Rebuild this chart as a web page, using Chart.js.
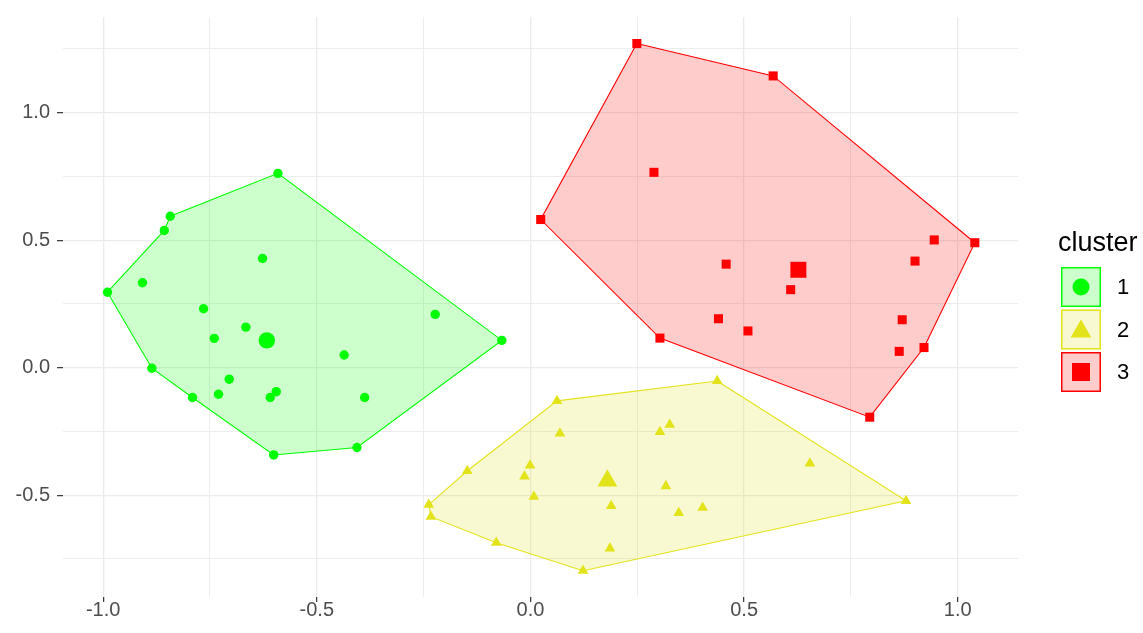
<!DOCTYPE html>
<html>
<head>
<meta charset="utf-8">
<script src="https://cdn.jsdelivr.net/npm/chart.js@4.4.0/dist/chart.umd.min.js"></script>
<style>
  html, body { margin: 0; padding: 0; background: #ffffff; }
  #wrap { width: 1143px; height: 633px; }
</style>
</head>
<body>
<div id="wrap"><canvas id="c" width="1143" height="633"></canvas></div>
<script>
// Cluster memberships (Dim1 / Dim2 coordinates)
const clusterNames = ['1', '2', '3'];

const c1x = [-0.591, -0.843, -0.857, -0.627, -0.908, -0.990, -0.765, -0.223, -0.666, -0.740, -0.067,
             -0.436, -0.886, -0.705, -0.595, -0.609, -0.730, -0.791, -0.388, -0.406, -0.601];
const c1y = [0.762, 0.594, 0.538, 0.428, 0.333, 0.296, 0.231, 0.209, 0.159, 0.115, 0.107,
             0.050, -0.002, -0.045, -0.094, -0.117, -0.104, -0.117, -0.117, -0.313, -0.342];
const hull1 = [5, 2, 1, 0, 10, 19, 20, 17, 12];
const center1 = [-0.617, 0.107];

const c2x = [0.437, 0.062, 0.326, 0.303, 0.069, 0.654, -0.148, -0.001, -0.014, 0.317,
             0.008, 0.879, -0.238, 0.189, 0.403, 0.347, -0.233, -0.080, 0.186, 0.123];
const c2y = [-0.052, -0.130, -0.223, -0.252, -0.258, -0.375, -0.405, -0.383, -0.426, -0.464,
             -0.506, -0.522, -0.537, -0.542, -0.549, -0.569, -0.584, -0.686, -0.708, -0.796];
const hull2 = [0, 11, 19, 17, 16, 12, 6, 1];
const center2 = [0.180, -0.443];

const c3x = [0.249, 0.568, 0.289, 0.024, 0.945, 1.040, 0.900, 0.458, 0.609, 0.440,
             0.870, 0.509, 0.303, 0.921, 0.863, 0.794];
const c3y = [1.271, 1.144, 0.766, 0.581, 0.501, 0.490, 0.418, 0.406, 0.306, 0.192,
             0.188, 0.144, 0.116, 0.079, 0.064, -0.194];
const hull3 = [0, 1, 5, 13, 15, 12, 3];
const center3 = [0.627, 0.384];

const xRange = [-1.094, 1.141];
const yRange = [-0.899, 1.375];
const gridStep = 0.25;
const labelStep = 0.5;
const legendTitle = 'cluster';

// Styling
const colors = ['#00FF00', '#E3E31B', '#FF0000'];
const fills = ['rgba(0,255,0,0.2)', 'rgba(227,227,27,0.2)', 'rgba(255,0,0,0.2)'];
const shapes = ['circle', 'triangle', 'rect'];
const pointRadius = [4.7, 6.2, 6.4];
const centerRadius = [8.2, 11.5, 11.3];
const legendRadius = [8.5, 12, 12.7];
const FONT = '"Liberation Sans", Arial, Helvetica, sans-serif';

const clusters = [
  { xs: c1x, ys: c1y, hull: hull1, center: center1 },
  { xs: c2x, ys: c2y, hull: hull2, center: center2 },
  { xs: c3x, ys: c3y, hull: hull3, center: center3 }
];

const toPoints = (xs, ys) => xs.map((x, i) => ({ x: x, y: ys[i] }));

const datasets = [];
clusters.forEach((c, k) => {
  // convex hull polygon, closed back to its first vertex
  const ring = c.hull.concat([c.hull[0]]).map(i => ({ x: c.xs[i], y: c.ys[i] }));
  datasets.push({
    type: 'line',
    label: 'hull ' + clusterNames[k],
    data: ring,
    borderColor: colors[k],
    backgroundColor: fills[k],
    borderWidth: 1.1,
    fill: 'shape',
    tension: 0,
    pointRadius: 0,
    pointHoverRadius: 0,
    order: 3
  });
  datasets.push({
    type: 'scatter',
    label: clusterNames[k],
    data: toPoints(c.xs, c.ys),
    pointStyle: shapes[k],
    pointRadius: pointRadius[k],
    pointBackgroundColor: colors[k],
    pointBorderColor: colors[k],
    pointBorderWidth: 0,
    order: 2
  });
  datasets.push({
    type: 'scatter',
    label: 'center ' + clusterNames[k],
    data: [{ x: c.center[0], y: c.center[1] }],
    pointStyle: shapes[k],
    pointRadius: centerRadius[k],
    pointBackgroundColor: colors[k],
    pointBorderColor: colors[k],
    pointBorderWidth: 0,
    order: 1
  });
});

function isMajor(v) {
  const q = v / labelStep;
  return Math.abs(q - Math.round(q)) < 1e-6;
}

function gridTicks(scale) {
  const ticks = [];
  const start = Math.ceil(scale.min / gridStep - 1e-9);
  const end = Math.floor(scale.max / gridStep + 1e-9);
  for (let i = start; i <= end; i++) {
    const v = +(i * gridStep).toFixed(4);
    ticks.push({ value: v, major: isMajor(v) });
  }
  scale.ticks = ticks;
}

function axis(range, isX) {
  return {
    type: 'linear',
    min: range[0],
    max: range[1],
    afterBuildTicks: gridTicks,
    afterFit: s => { if (isX) s.height = 36; else s.width = 63; },
    border: { display: false },
    grid: {
      color: '#ebebeb',
      lineWidth: ctx => (ctx.tick && ctx.tick.major ? 1.3 : 0.9),
      tickLength: isX ? 5 : 6,
      tickWidth: 1.2,
      tickColor: ctx => (ctx.tick && ctx.tick.major ? '#333333' : 'rgba(0,0,0,0)')
    },
    ticks: {
      autoSkip: false,
      maxRotation: 0,
      padding: isX ? -2 : 7,
      color: '#4d4d4d',
      font: { family: FONT, size: 20, lineHeight: 1 },
      callback: v => (isMajor(v) ? v.toFixed(1) : '')
    }
  };
}

// Legend: title plus a filled key box with the cluster marker
const clusterLegend = {
  id: 'clusterLegend',
  afterDraw(chart) {
    const ctx = chart.ctx;
    ctx.save();
    ctx.fillStyle = '#000000';
    ctx.textBaseline = 'alphabetic';
    ctx.textAlign = 'left';
    ctx.font = '27px ' + FONT;
    ctx.fillText(legendTitle, 1058, 251);
    const size = 40, left = 1061, top0 = 267, gap = 42.5;
    clusterNames.forEach((name, k) => {
      const top = top0 + k * gap;
      ctx.fillStyle = fills[k];
      ctx.fillRect(left, top, size, size);
      ctx.strokeStyle = colors[k];
      ctx.lineWidth = 1.5;
      ctx.strokeRect(left + 0.75, top + 0.75, size - 1.5, size - 1.5);
      ctx.fillStyle = colors[k];
      Chart.helpers.drawPoint(ctx, {
        pointStyle: shapes[k], radius: legendRadius[k], rotation: 0, borderWidth: 0
      }, left + size / 2, top + size / 2 + (shapes[k] === 'triangle' ? 2 : 0));
      ctx.fillStyle = '#000000';
      ctx.font = '22px ' + FONT;
      ctx.textBaseline = 'middle';
      ctx.fillText(name, 1117, top + size / 2 + 1);
      ctx.textBaseline = 'alphabetic';
    });
    ctx.restore();
  }
};

new Chart(document.getElementById('c'), {
  type: 'scatter',
  data: { datasets: datasets },
  options: {
    responsive: false,
    animation: false,
    devicePixelRatio: 1,
    layout: { autoPadding: false, padding: { left: 0, top: 16, right: 125, bottom: 0 } },
    plugins: { legend: { display: false }, tooltip: { enabled: false } },
    scales: { x: axis(xRange, true), y: axis(yRange, false) }
  },
  plugins: [clusterLegend]
});
</script>
</body>
</html>
